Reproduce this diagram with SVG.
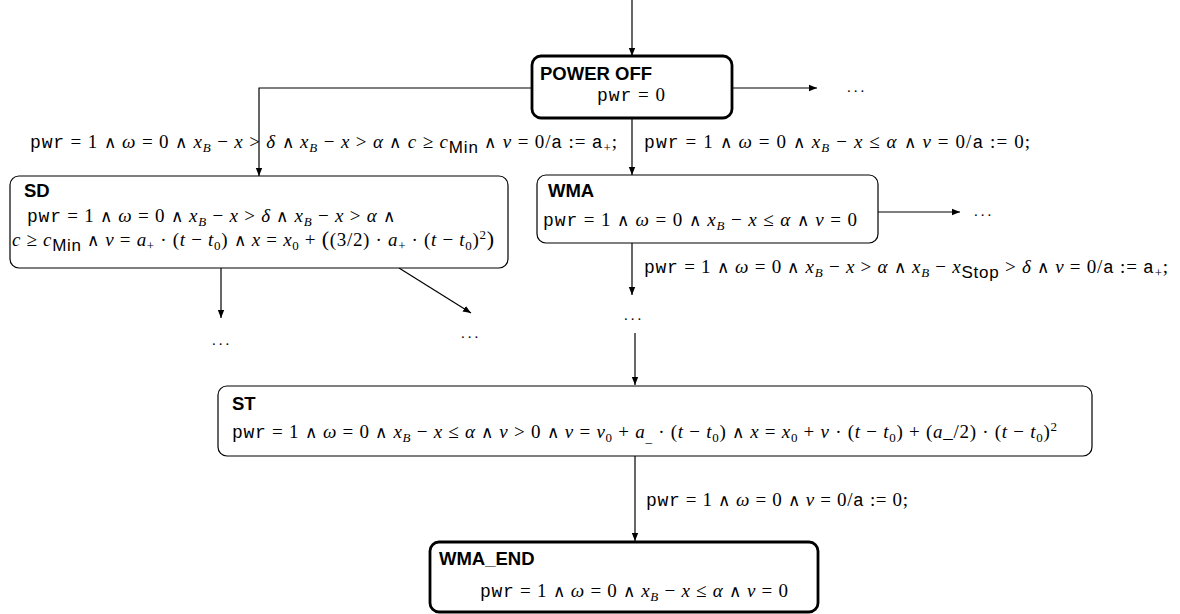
<svg xmlns="http://www.w3.org/2000/svg" width="1180" height="614" viewBox="0 0 1180 614">
<style>
.box{fill:#fff;stroke:#000;stroke-width:1.2}
.thick{stroke-width:2.8}
.ttl{font-family:"Liberation Sans",Arial,sans-serif;font-weight:bold;font-size:18.5px;fill:#000}
.m{font-family:"Liberation Serif","Times New Roman",serif;font-size:19px;fill:#000}
.i{font-style:italic}
.w{font-family:"DejaVu Sans",sans-serif;font-weight:200;font-size:17px}
.tt{font-family:"Liberation Mono","Courier New",monospace;font-size:18px}
.sb{font-size:13px;baseline-shift:-4px}
.sp{font-size:13px;baseline-shift:7px}
.sf{font-family:"Liberation Sans",Arial,sans-serif;font-size:17px;baseline-shift:-5px}
.dots{font-family:"Liberation Serif",serif;font-size:15px;letter-spacing:3px;fill:#000}
.c{fill:none;stroke:#000;stroke-width:1.2}
</style>
<defs>
<marker id="ah" viewBox="0 0 10 10" refX="10" refY="5" markerWidth="8" markerHeight="8" markerUnits="userSpaceOnUse" orient="auto">
<path d="M0,1 L10,5 L0,9 z" fill="#000"/>
</marker>
</defs>

<g id="connectors">
<path class="c" d="M632,0 V56" marker-end="url(#ah)"/>
<path class="c" d="M732,88 H817" marker-end="url(#ah)"/>
<path class="c" d="M532,88 H259 V176" marker-end="url(#ah)"/>
<path class="c" d="M632,118 V175" marker-end="url(#ah)"/>
<path class="c" d="M878,212 H960" marker-end="url(#ah)"/>
<path class="c" d="M632,243 V295" marker-end="url(#ah)"/>
<path class="c" d="M635,333 V385" marker-end="url(#ah)"/>
<path class="c" d="M221,268 V318" marker-end="url(#ah)"/>
<path class="c" d="M399,268 L471,313" marker-end="url(#ah)"/>
<path class="c" d="M635,456 V541" marker-end="url(#ah)"/>
</g>

<g id="labels">
<text class="m" x="30" y="148" textLength="587" lengthAdjust="spacing"><tspan class="tt">pwr</tspan> = 1 <tspan class="w">∧</tspan> <tspan class="i">ω</tspan> = 0 <tspan class="w">∧</tspan> <tspan class="i">x</tspan><tspan class="sb i">B</tspan> − <tspan class="i">x</tspan> &gt; <tspan class="i">δ</tspan> <tspan class="w">∧</tspan> <tspan class="i">x</tspan><tspan class="sb i">B</tspan> − <tspan class="i">x</tspan> &gt; <tspan class="i">α</tspan> <tspan class="w">∧</tspan> <tspan class="i">c</tspan> ≥ <tspan class="i">c</tspan><tspan class="sf">Min</tspan> <tspan class="w">∧</tspan> <tspan class="i">v</tspan> = 0/<tspan class="tt">a</tspan> := <tspan class="tt">a</tspan><tspan class="sb">+</tspan>;</text>
<text class="m" x="644" y="148" textLength="386" lengthAdjust="spacing"><tspan class="tt">pwr</tspan> = 1 <tspan class="w">∧</tspan> <tspan class="i">ω</tspan> = 0 <tspan class="w">∧</tspan> <tspan class="i">x</tspan><tspan class="sb i">B</tspan> − <tspan class="i">x</tspan> ≤ <tspan class="i">α</tspan> <tspan class="w">∧</tspan> <tspan class="i">v</tspan> = 0/<tspan class="tt">a</tspan> := 0;</text>
<text class="m" x="644" y="273" textLength="524" lengthAdjust="spacing"><tspan class="tt">pwr</tspan> = 1 <tspan class="w">∧</tspan> <tspan class="i">ω</tspan> = 0 <tspan class="w">∧</tspan> <tspan class="i">x</tspan><tspan class="sb i">B</tspan> − <tspan class="i">x</tspan> &gt; <tspan class="i">α</tspan> <tspan class="w">∧</tspan> <tspan class="i">x</tspan><tspan class="sb i">B</tspan> − <tspan class="i">x</tspan><tspan class="sf">Stop</tspan> &gt; <tspan class="i">δ</tspan> <tspan class="w">∧</tspan> <tspan class="i">v</tspan> = 0/<tspan class="tt">a</tspan> := <tspan class="tt">a</tspan><tspan class="sb">+</tspan>;</text>
<text class="m" x="646" y="506" textLength="262" lengthAdjust="spacing"><tspan class="tt">pwr</tspan> = 1 <tspan class="w">∧</tspan> <tspan class="i">ω</tspan> = 0 <tspan class="w">∧</tspan> <tspan class="i">v</tspan> = 0/<tspan class="tt">a</tspan> := 0;</text>
<text class="dots" x="847" y="92">...</text>
<text class="dots" x="974" y="216">...</text>
<text class="dots" x="212" y="345">...</text>
<text class="dots" x="461" y="338">...</text>
<text class="dots" x="624" y="320">...</text>
</g>

<g id="power_off">
<rect class="box thick" x="532" y="56" width="200" height="62" rx="9"/>
<text class="ttl" x="540" y="80">POWER OFF</text>
<text class="m" x="597" y="101" textLength="68" lengthAdjust="spacing"><tspan class="tt">pwr</tspan> = 0</text>
</g>

<g id="sd">
<rect class="box" x="10" y="176" width="498" height="92" rx="9"/>
<text class="ttl" x="24" y="197">SD</text>
<text class="m" x="27" y="222" textLength="368" lengthAdjust="spacing"><tspan class="tt">pwr</tspan> = 1 <tspan class="w">∧</tspan> <tspan class="i">ω</tspan> = 0 <tspan class="w">∧</tspan> <tspan class="i">x</tspan><tspan class="sb i">B</tspan> − <tspan class="i">x</tspan> &gt; <tspan class="i">δ</tspan> <tspan class="w">∧</tspan> <tspan class="i">x</tspan><tspan class="sb i">B</tspan> − <tspan class="i">x</tspan> &gt; <tspan class="i">α</tspan> <tspan class="w">∧</tspan></text>
<text class="m" x="12" y="246" textLength="482" lengthAdjust="spacing"><tspan class="i">c</tspan> ≥ <tspan class="i">c</tspan><tspan class="sf">Min</tspan> <tspan class="w">∧</tspan> <tspan class="i">v</tspan> = <tspan class="i">a</tspan><tspan class="sb">+</tspan> · (<tspan class="i">t</tspan> − <tspan class="i">t</tspan><tspan class="sb">0</tspan>) <tspan class="w">∧</tspan> <tspan class="i">x</tspan> = <tspan class="i">x</tspan><tspan class="sb">0</tspan> + <tspan font-size="22">(</tspan>(3/2) · <tspan class="i">a</tspan><tspan class="sb">+</tspan> · (<tspan class="i">t</tspan> − <tspan class="i">t</tspan><tspan class="sb">0</tspan>)<tspan class="sp">2</tspan><tspan font-size="22">)</tspan></text>
</g>

<g id="wma">
<rect class="box" x="537" y="175" width="341" height="68" rx="9"/>
<text class="ttl" x="548" y="197">WMA</text>
<text class="m" x="543" y="226" textLength="314" lengthAdjust="spacing"><tspan class="tt">pwr</tspan> = 1 <tspan class="w">∧</tspan> <tspan class="i">ω</tspan> = 0 <tspan class="w">∧</tspan> <tspan class="i">x</tspan><tspan class="sb i">B</tspan> − <tspan class="i">x</tspan> ≤ <tspan class="i">α</tspan> <tspan class="w">∧</tspan> <tspan class="i">v</tspan> = 0</text>
</g>

<g id="st">
<rect class="box" x="218" y="386" width="874" height="70" rx="9"/>
<text class="ttl" x="232" y="410">ST</text>
<text class="m" x="232" y="438" textLength="825" lengthAdjust="spacing"><tspan class="tt">pwr</tspan> = 1 <tspan class="w">∧</tspan> <tspan class="i">ω</tspan> = 0 <tspan class="w">∧</tspan> <tspan class="i">x</tspan><tspan class="sb i">B</tspan> − <tspan class="i">x</tspan> ≤ <tspan class="i">α</tspan> <tspan class="w">∧</tspan> <tspan class="i">v</tspan> &gt; 0 <tspan class="w">∧</tspan> <tspan class="i">v</tspan> = <tspan class="i">v</tspan><tspan class="sb">0</tspan> + <tspan class="i">a</tspan><tspan class="sb">_</tspan> · (<tspan class="i">t</tspan> − <tspan class="i">t</tspan><tspan class="sb">0</tspan>) <tspan class="w">∧</tspan> <tspan class="i">x</tspan> = <tspan class="i">x</tspan><tspan class="sb">0</tspan> + <tspan class="i">v</tspan> · (<tspan class="i">t</tspan> − <tspan class="i">t</tspan><tspan class="sb">0</tspan>) + (<tspan class="i">a</tspan>_/2) · (<tspan class="i">t</tspan> − <tspan class="i">t</tspan><tspan class="sb">0</tspan>)<tspan class="sp">2</tspan></text>
</g>

<g id="wma_end">
<rect class="box thick" x="430" y="542" width="388" height="70" rx="9"/>
<text class="ttl" x="439" y="565">WMA_END</text>
<text class="m" x="480" y="597" textLength="308" lengthAdjust="spacing"><tspan class="tt">pwr</tspan> = 1 <tspan class="w">∧</tspan> <tspan class="i">ω</tspan> = 0 <tspan class="w">∧</tspan> <tspan class="i">x</tspan><tspan class="sb i">B</tspan> − <tspan class="i">x</tspan> ≤ <tspan class="i">α</tspan> <tspan class="w">∧</tspan> <tspan class="i">v</tspan> = 0</text>
</g>
</svg>
